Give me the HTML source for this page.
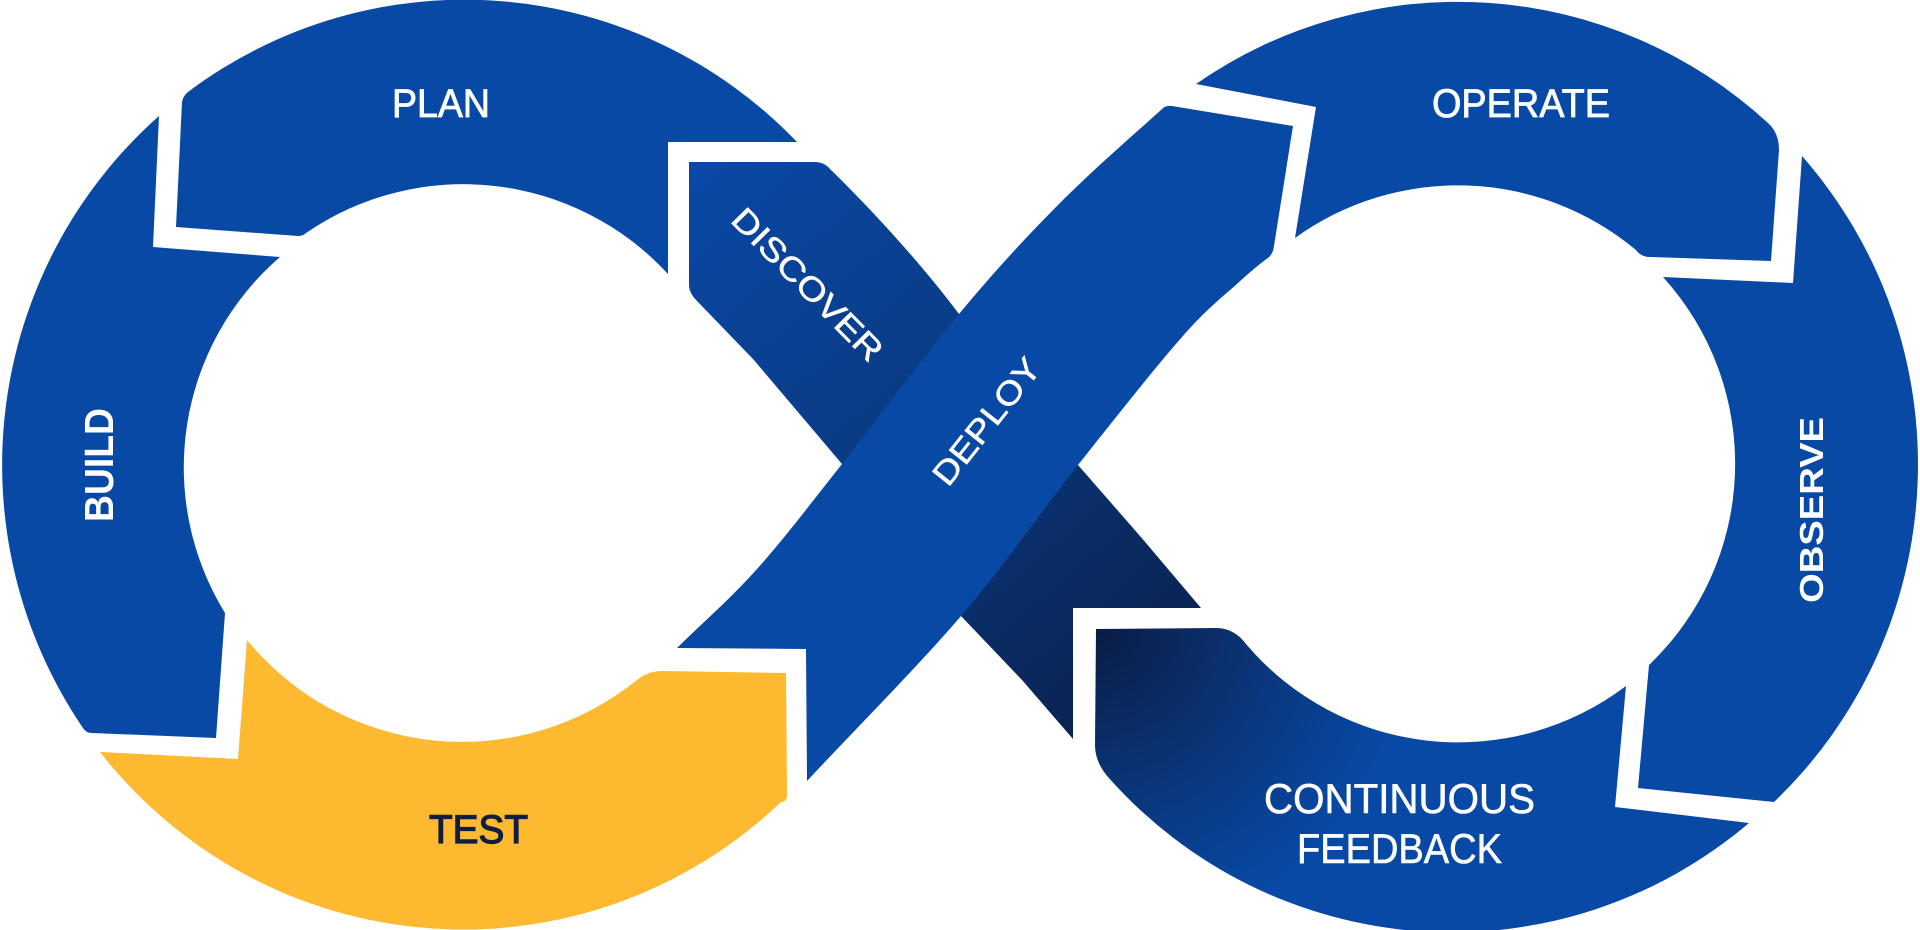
<!DOCTYPE html>
<html>
<head>
<meta charset="utf-8">
<style>
  html,body{margin:0;padding:0;background:#ffffff;}
  body{width:1920px;height:930px;overflow:hidden;}
  svg{display:block;}
  text{font-family:"Liberation Sans", Arial, sans-serif;}
</style>
</head>
<body>
<svg width="1920" height="930" viewBox="0 0 1920 930" xmlns="http://www.w3.org/2000/svg">
  <defs>
    <linearGradient id="gD" gradientUnits="userSpaceOnUse" x1="700" y1="170" x2="1150" y2="700">
      <stop offset="0" stop-color="#0948a6"/>
      <stop offset="0.45" stop-color="#0a3b84"/>
      <stop offset="0.75" stop-color="#0a2d66"/>
      <stop offset="1" stop-color="#0a2250"/>
    </linearGradient>
    <radialGradient id="gC" gradientUnits="userSpaceOnUse" cx="1096" cy="629" r="310">
      <stop offset="0" stop-color="#0a1c44"/>
      <stop offset="0.5" stop-color="#0a3476"/>
      <stop offset="1" stop-color="#0849a6"/>
    </radialGradient>
  </defs>

  <!-- PLAN -->
  <path fill="#0849a6" d="M176,227 L182,102 Q183,96 188,92 A462,465 0 0 1 797,142 L668,142 L668,274 A278,278 0 0 0 306,233 Q303,236 298,236 Z"/>

  <!-- BUILD -->
  <path fill="#0849a6" d="M159,116 A462,465 0 0 0 83,728 Q86,733 92,733 L216,738 L225,613 A278,278 0 0 1 280,257 L153,247 Z"/>

  <!-- TEST -->
  <path fill="#fdb92f" d="M100,752 L238,759 L247,640 A278,278 0 0 0 637,680 Q648,671 662,671 L786,673 L787,795 Q787,802 781,802 A462,465 0 0 1 100,752 Z"/>

  <!-- OPERATE -->
  <path fill="#0849a6" d="M1196,84 L1316,107 L1295,238 A278,278 0 0 1 1636,250 Q1641,257 1650,257 L1771,261 L1779,150 Q1779,133 1768,123 A461,465 0 0 0 1196,84 Z"/>

  <!-- OBSERVE -->
  <path fill="#0849a6" d="M1802,156 A461,465 0 0 1 1774,802 L1638,788 L1649,665 A278,278 0 0 0 1663,277 L1793,283 Z"/>

  <!-- CONTINUOUS FEEDBACK -->
  <path fill="url(#gC)" d="M1096,629 L1216,628 Q1234,628 1246,644 A278,278 0 0 0 1626,686 L1615,807 L1749,823 A461,465 0 0 1 1108,777 Q1095,762 1095,745 Z"/>

  <!-- DISCOVER / dark crossing band -->
  <path fill="url(#gD)" d="M689,162 L815,162 Q824,162 830,169 C870,208 920,262 959,314 L1078,465 L1140,536 L1201,608 L1073,608 L1073,739 L1022,680 L961,616 L842,464 L753,359 L697,301 Q689,293 689,285 Z"/>

  <!-- DEPLOY -->
  <path fill="#0849a6" d="M677,648 L806,649 L807,781
    C858.3,726 915.8,668.7 961,616
    C1006.2,563.3 1041.2,511.5 1078,465
    C1114.8,418.5 1155.3,367.3 1182,337
    C1208.7,306.7 1223.2,296.5 1238,283
    C1252.8,269.5 1262,262 1268,258
    Q1273,254 1274,246
    L1293,126
    L1172,106
    Q1165,105 1161,110
    C1127.3,140.3 1090,172.5 1056,207
    C1022,241.5 994.7,271.2 959,314
    C923.3,356.8 875.7,421.5 842,464
    C808.3,506.5 784.5,538.3 757,569
    C729.5,599.7 703.7,621.7 677,648 Z"/>

  <!-- Labels -->
  <text x="392" y="117" font-size="40" fill="#ffffff" stroke="#ffffff" stroke-width="0.8" textLength="98" lengthAdjust="spacingAndGlyphs">PLAN</text>
  <text x="1432" y="117" font-size="40" fill="#ffffff" stroke="#ffffff" stroke-width="0.8" textLength="178" lengthAdjust="spacingAndGlyphs">OPERATE</text>
  <text x="429" y="843" font-size="40" fill="#0e1f40" stroke="#0e1f40" stroke-width="1.3" textLength="99" lengthAdjust="spacingAndGlyphs">TEST</text>
  <text x="1264" y="813" font-size="42" fill="#ffffff" stroke="#ffffff" stroke-width="0.6" textLength="271" lengthAdjust="spacingAndGlyphs">CONTINUOUS</text>
  <text x="1297" y="863" font-size="42" fill="#ffffff" stroke="#ffffff" stroke-width="0.6" textLength="205" lengthAdjust="spacingAndGlyphs">FEEDBACK</text>

  <text transform="translate(113,522) rotate(-90)" x="0" y="0" font-size="41" font-weight="bold" fill="#ffffff" textLength="114" lengthAdjust="spacingAndGlyphs">BUILD</text>
  <text transform="translate(1823,603) rotate(-90)" x="0" y="0" font-size="33" font-weight="bold" fill="#ffffff" textLength="186" lengthAdjust="spacingAndGlyphs">OBSERVE</text>

  <text transform="translate(808,284) rotate(45.5)" x="-100" y="12" font-size="33" fill="#ffffff" stroke="#ffffff" stroke-width="0.5" textLength="200" lengthAdjust="spacingAndGlyphs">DISCOVER</text>
  <text transform="translate(986,421) rotate(-51.5)" x="-76" y="12" font-size="33" fill="#ffffff" stroke="#ffffff" stroke-width="0.5" textLength="152" lengthAdjust="spacingAndGlyphs">DEPLOY</text>
</svg>
</body>
</html>
